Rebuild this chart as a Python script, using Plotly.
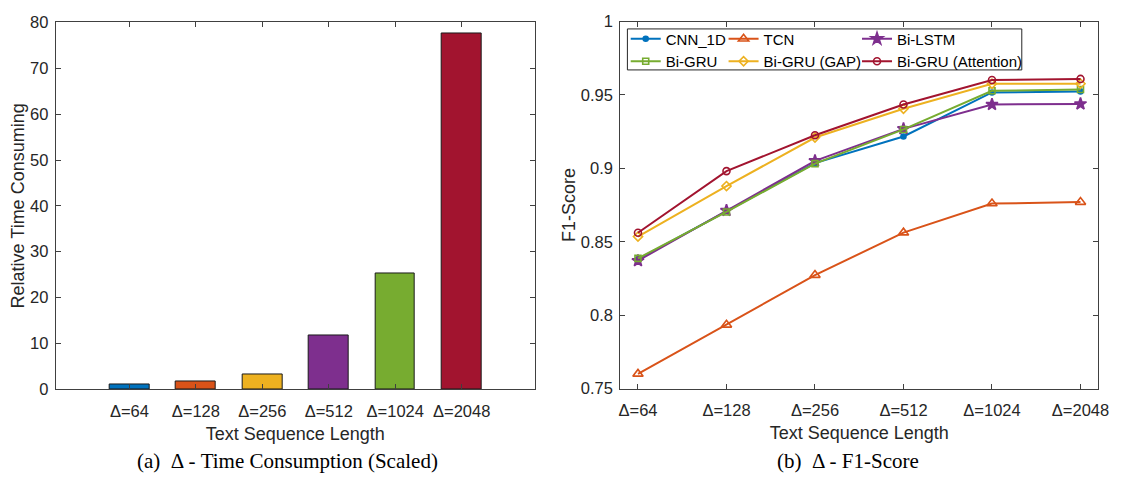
import plotly.graph_objects as go

# ---------------- data ----------------
categories = ["Δ=64", "Δ=128", "Δ=256", "Δ=512", "Δ=1024", "Δ=2048"]
time_values = [1.0, 1.8, 3.3, 11.8, 25.3, 77.5]

cnn_1d = [0.838, 0.871, 0.9036, 0.9217, 0.9517, 0.9524]
tcn = [0.760, 0.7934, 0.8273, 0.8562, 0.876, 0.877]
bi_lstm = [0.8371, 0.8713, 0.9051, 0.9269, 0.9435, 0.9439]
bi_gru = [0.8387, 0.8703, 0.9032, 0.9265, 0.9528, 0.9537]
bi_gru_gap = [0.8535, 0.8879, 0.9210, 0.9406, 0.9576, 0.9576]
bi_gru_att = [0.8561, 0.8981, 0.9225, 0.9435, 0.9602, 0.9609]

series_names = ["CNN_1D", "TCN", "Bi-LSTM", "Bi-GRU", "Bi-GRU (GAP)", "Bi-GRU (Attention)"]
series_values = [cnn_1d, tcn, bi_lstm, bi_gru, bi_gru_gap, bi_gru_att]

y_ticks_left = [0, 10, 20, 30, 40, 50, 60, 70, 80]
y_ticks_right = [0.75, 0.8, 0.85, 0.9, 0.95, 1]

# ---------------- styles ----------------
BLUE, ORANGE, YELLOW, PURPLE, GREEN, RED = "#0072BD", "#D95319", "#EDB120", "#7E2F8E", "#77AC30", "#A2142F"
bar_colors = [BLUE, ORANGE, YELLOW, PURPLE, GREEN, RED]
line_colors = [BLUE, ORANGE, PURPLE, GREEN, YELLOW, RED]
symbols = ["circle", "triangle-up-open", "star", "square-open", "diamond-open", "circle-open"]
msizes = [5, 9, 9, 6, 7, 7]
legend_ids = ["legend", "legend2", "legend3", "legend", "legend2", "legend3"]

W, H = 1126, 482
AX = "#404040"
TXT = "#262626"
SANS = "Liberation Sans, Arial, sans-serif"
SERIF = "Liberation Serif, Times New Roman, serif"

def px(x):
    return x / W

def py(y):
    return (H - y) / H

xidx = list(range(len(categories)))

fig = go.Figure()

fig.add_trace(go.Bar(
    x=xidx, y=time_values, width=0.6,
    marker=dict(color=bar_colors, line=dict(color="#1a1a1a", width=1)),
    xaxis="x", yaxis="y", showlegend=False,
))

for name, vals, col, sym, ms, lg in zip(series_names, series_values, line_colors, symbols, msizes, legend_ids):
    fig.add_trace(go.Scatter(
        x=xidx, y=vals, mode="lines+markers", name=name,
        line=dict(color=col, width=2),
        marker=dict(symbol=sym, size=ms, color=col, line=dict(color=col, width=1.6)),
        xaxis="x2", yaxis="y2", legend=lg,
    ))

axis_common = dict(
    showline=True, linecolor=AX, linewidth=1, mirror="ticks",
    ticks="inside", ticklen=5, tickcolor=AX, tickwidth=1,
    showgrid=False, zeroline=False,
    tickfont=dict(family=SANS, size=16.5, color=TXT),
)
title_font = dict(family=SANS, size=18, color=TXT)

fig.update_layout(
    width=W, height=H,
    margin=dict(l=0, r=0, t=0, b=0),
    paper_bgcolor="white", plot_bgcolor="white",
    bargap=0,
    xaxis=dict(
        domain=[px(54.3), px(539)], range=[-1.11, 6.1],
        tickvals=xidx, ticktext=categories, ticklabelstandoff=7,
        title=dict(text="Text Sequence Length", font=title_font, standoff=8),
        anchor="y", **axis_common,
    ),
    yaxis=dict(
        domain=[py(395), py(14)], range=[0, 80],
        tickvals=y_ticks_left, ticklabelstandoff=3,
        title=dict(text="Relative Time Consuming", font=title_font, standoff=0),
        anchor="x", **axis_common,
    ),
    xaxis2=dict(
        domain=[px(625.5), px(1109)], range=[-0.2, 5.2],
        tickvals=xidx, ticktext=categories, ticklabelstandoff=7,
        title=dict(text="Text Sequence Length", font=title_font, standoff=8),
        anchor="y2", **axis_common,
    ),
    yaxis2=dict(
        domain=[py(394.3), py(13)], range=[0.75, 1.0],
        tickvals=y_ticks_right, ticklabelstandoff=3,
        title=dict(text="F1-Score", font=title_font, standoff=0),
        anchor="x2", **axis_common,
    ),
)

leg_common = dict(
    orientation="v", xanchor="left", yanchor="top", y=py(14),
    bgcolor="rgba(0,0,0,0)", borderwidth=0, itemwidth=30,
    font=dict(family=SANS, size=15, color="#000000"),
    tracegroupgap=0,
)
fig.update_layout(
    legend=dict(x=px(631), **leg_common),
    legend2=dict(x=px(730), **leg_common),
    legend3=dict(x=px(865), **leg_common),
)

# legend frame
fig.add_shape(type="rect", xref="paper", yref="paper",
              x0=px(632.7), x1=px(1031.7), y0=py(63.3), y1=py(20.7),
              line=dict(color="#262626", width=1), fillcolor="white", layer="above")

# sub-captions
fig.add_annotation(text="(a)  Δ - Time Consumption (Scaled)", xref="paper", yref="paper",
                   x=px(289), y=py(470), showarrow=False, xanchor="center", yanchor="middle",
                   font=dict(family=SERIF, size=21, color="#000000"))
fig.add_annotation(text="(b)  Δ - F1-Score", xref="paper", yref="paper",
                   x=px(856), y=py(470), showarrow=False, xanchor="center", yanchor="middle",
                   font=dict(family=SERIF, size=21, color="#000000"))

fig.write_html("out.html")
